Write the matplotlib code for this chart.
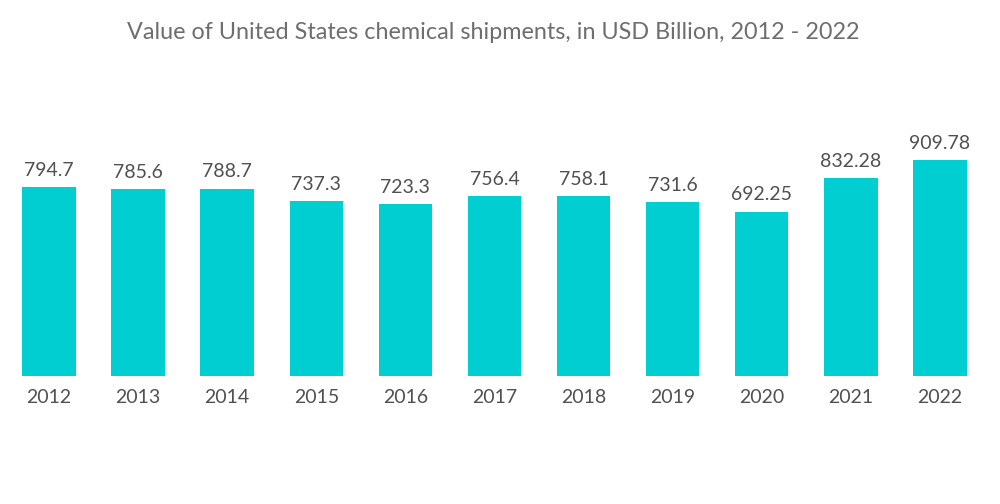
import matplotlib
matplotlib.use("Agg")
import matplotlib.pyplot as plt

years = ["2012", "2013", "2014", "2015", "2016", "2017", "2018", "2019", "2020", "2021", "2022"]
values = [794.7, 785.6, 788.7, 737.3, 723.3, 756.4, 758.1, 731.6, 692.25, 832.28, 909.78]
labels = ["794.7", "785.6", "788.7", "737.3", "723.3", "756.4", "758.1", "731.6", "692.25", "832.28", "909.78"]

plt.rcParams['font.family'] = ['Lato', 'DejaVu Sans']

fig = plt.figure(figsize=(10, 5.04), dpi=100)
ax = fig.add_axes([0.00445, 0.254, 0.98, 0.471])
x = list(range(len(years)))
ax.bar(x, values, width=0.6, color="#00CED1")
ax.set_xlim(-0.5, len(years) - 0.5)
ax.set_ylim(0, 1000)
for xi, v, lab in zip(x, values, labels):
    ax.annotate(lab, (xi, v), xytext=(0, 6), textcoords="offset points",
                ha="center", va="bottom", fontsize=14, color="#505050")
ax.set_xticks(x)
ax.set_xticklabels(years, fontsize=14, color="#505050")
ax.tick_params(axis="x", length=0, pad=9.5)
ax.set_yticks([])
for s in ax.spines.values():
    s.set_visible(False)
fig.text(0.493, 0.936, "Value of United States chemical shipments, in USD Billion, 2012 - 2022",
         ha="center", va="center", fontsize=16.8, color="#6e6e6e")
fig.savefig("out.png", dpi=100)
